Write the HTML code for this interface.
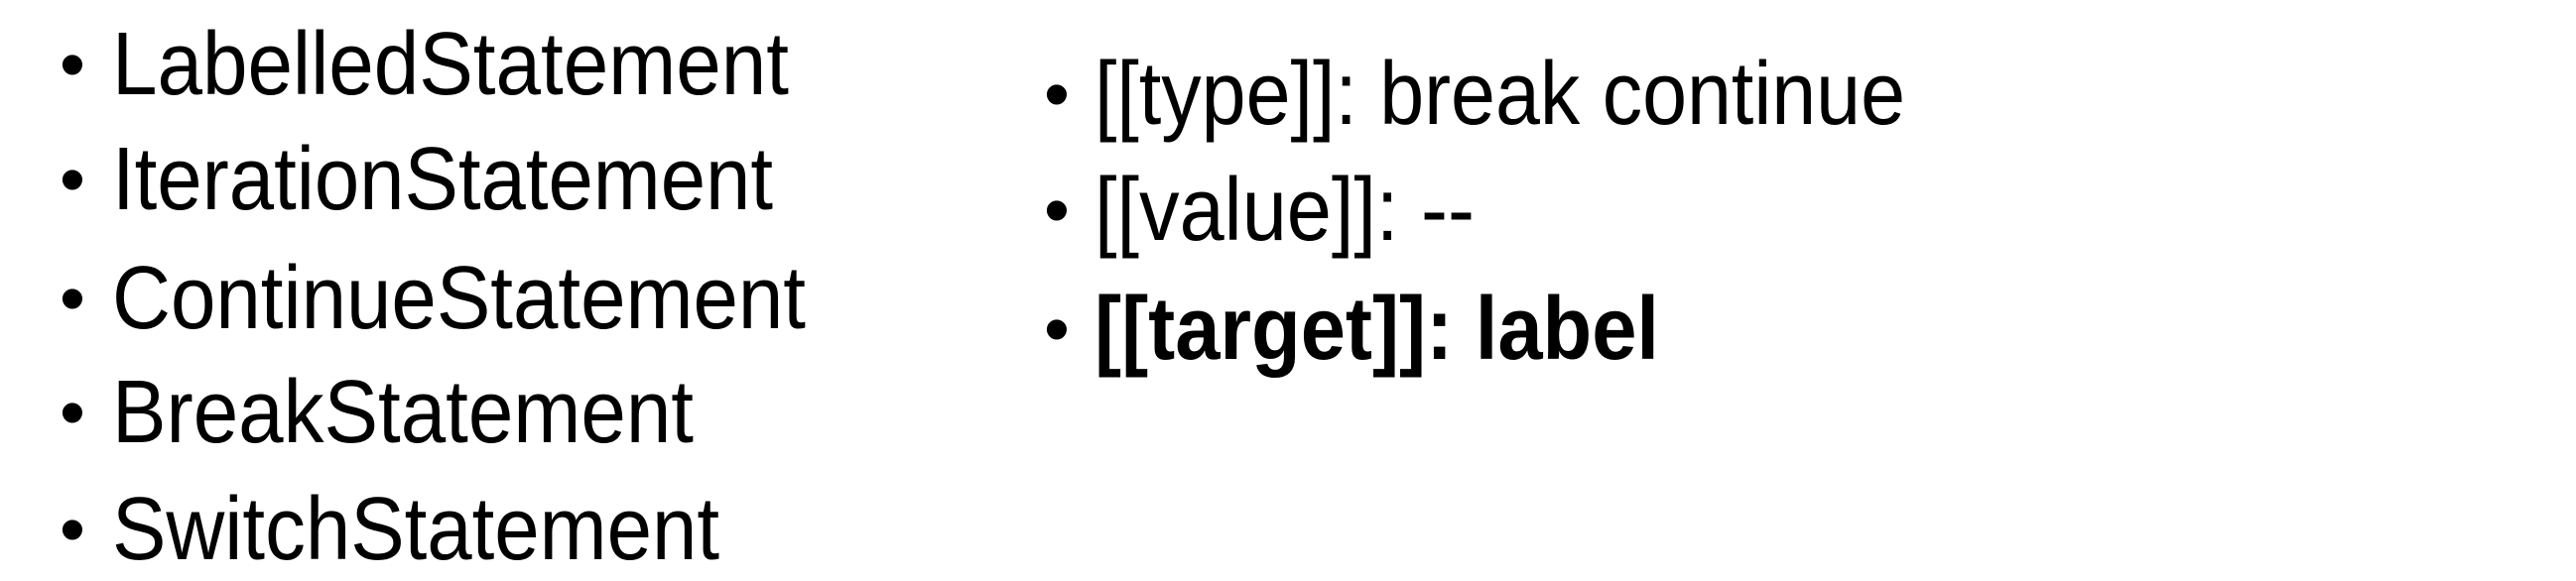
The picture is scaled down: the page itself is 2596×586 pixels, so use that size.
<!DOCTYPE html>
<html><head><meta charset="utf-8"><style>
html,body{margin:0;padding:0;background:#fff;}
svg{display:block;}
text{font-family:"Liberation Sans",Arial,sans-serif;font-size:90px;fill:#000;}
.b{font-size:74px;}
</style></head><body>
<svg width="2596" height="586" viewBox="0 0 2596 586" xmlns="http://www.w3.org/2000/svg">
<g>
<text class="b" x="60" y="90">•</text>
<text x="113" y="95" textLength="682" lengthAdjust="spacingAndGlyphs">LabelledStatement</text>
<text class="b" x="60" y="206">•</text>
<text x="113" y="211" textLength="666" lengthAdjust="spacingAndGlyphs">IterationStatement</text>
<text class="b" x="60" y="326">•</text>
<text x="113" y="331" textLength="699" lengthAdjust="spacingAndGlyphs">ContinueStatement</text>
<text class="b" x="60" y="441">•</text>
<text x="113" y="446" textLength="586" lengthAdjust="spacingAndGlyphs">BreakStatement</text>
<text class="b" x="60" y="559">•</text>
<text x="113" y="564" textLength="612" lengthAdjust="spacingAndGlyphs">SwitchStatement</text>

<text class="b" x="1052" y="120">•</text>
<text x="1103" y="125" textLength="817" lengthAdjust="spacingAndGlyphs">[[type]]: break continue</text>
<text class="b" x="1052" y="237">•</text>
<text x="1103" y="242" textLength="383" lengthAdjust="spacingAndGlyphs">[[value]]: --</text>
<text class="b" x="1052" y="357">•</text>
<text x="1103" y="362" textLength="569" lengthAdjust="spacingAndGlyphs" font-weight="bold">[[target]]: label</text>
</g>
</svg>
</body></html>
